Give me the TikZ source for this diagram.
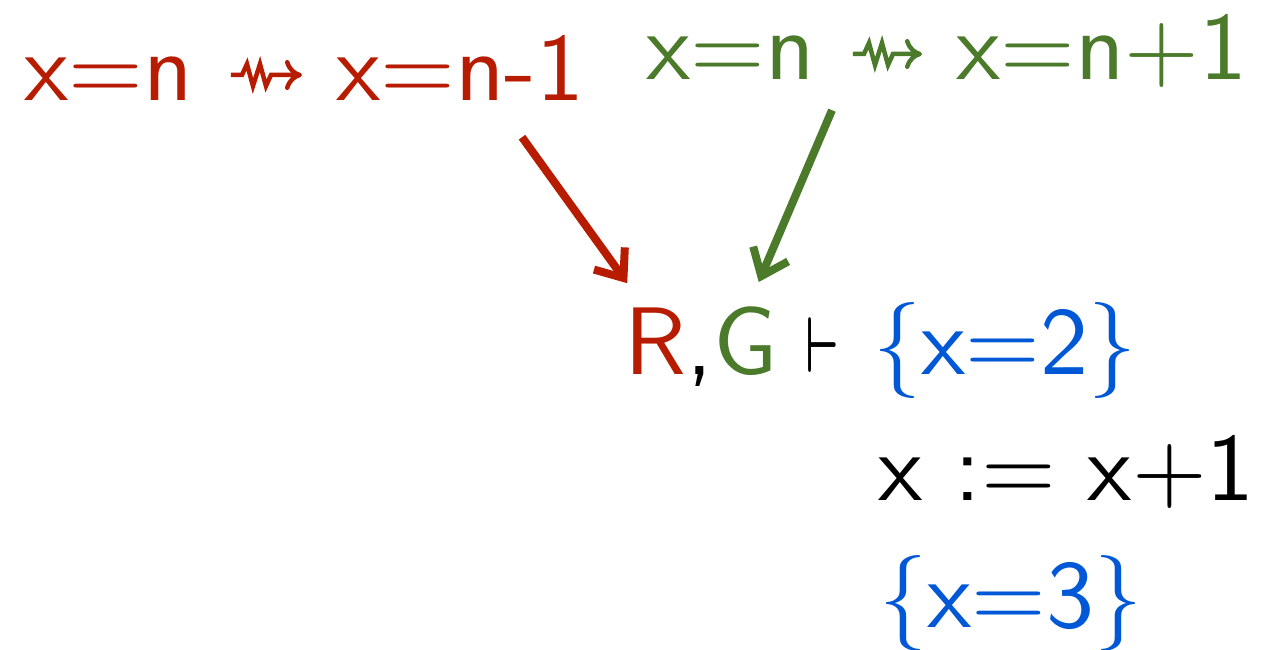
\RequirePackage{fix-cm}
\documentclass[tikz,border=0pt]{standalone}
\usepackage{graphicx}
\usepackage{amssymb}
\usepackage{fontspec}
\setsansfont[Extension=.otf]{lmsans10-regular}
\usetikzlibrary{arrows.meta}
\definecolor{cred}{RGB}{183,28,0}
\definecolor{cgreen}{RGB}{74,122,42}
\definecolor{cblue}{RGB}{0,88,214}
\tikzset{
  lbl/.style={inner sep=0pt, anchor=base west, font=\sffamily\fontsize{96}{110}\selectfont},
  squig/.style={line width=4.5pt, miter limit=4, -{Computer Modern Rightarrow[length=17pt,width=30pt]}},
  arr/.style={line width=8pt, -{Straight Barb[length=24pt,width=38pt]}}
}
\begin{document}
\begin{tikzpicture}[x=1pt,y=-1pt]
\useasboundingbox (0,0) rectangle (1264,650);
% top left (red)
\node[lbl,text=cred] (r1) at (24,101) {x=n};
\node[lbl,text=cred] (r2) at (336,101) {x=n-1};
% top right (green)
\node[lbl,text=cgreen] (g1) at (646,80) {x=n};
\node[lbl,text=cgreen] (g2) at (956,80) {x=n+1};
% leads-to arrows
\coordinate (rsA) at ([xshift=38pt,yshift=26pt]r1.base east);
\coordinate (rsB) at ([xshift=-34pt,yshift=26pt]r2.base west);
\coordinate (gsA) at ([xshift=38pt,yshift=26pt]g1.base east);
\coordinate (gsB) at ([xshift=-34pt,yshift=26pt]g2.base west);
\draw[squig,cred] (rsA) -- ++(11,0) -- ++(5,-11) -- ++(6,22) -- ++(7,-22) -- ++(6,22) -- ++(5,-11) -- (rsB);
\draw[squig,cgreen] (gsA) -- ++(11,0) -- ++(5,-11) -- ++(6,22) -- ++(7,-22) -- ++(6,22) -- ++(5,-11) -- (gsB);
% judgement line
\node[lbl,text=cred] (R) at (624,374) {R};
\node[lbl] (cm) at (R.base east) {,};
\node[lbl,text=cgreen] (G) at (cm.base east) {G};
\node[inner sep=0pt, anchor=base] (vd) at (822,372) {\scalebox{4.8}[7.9]{\boldmath$\vdash$}};
\node[lbl,text=cblue] (p1) at (873,374) {\{x=2\}};
\node[lbl] (asg) at (878,500) {x := x+1};
\node[lbl,text=cblue] (p2) at (879,627) {\{x=3\}};
% arrows
\draw[arr,cred] ([xshift=186pt,yshift=-36pt]r2.south west) -- ([xshift=-28pt,yshift=24pt]R.north);
\draw[arr,cgreen] ([xshift=17pt,yshift=-30pt]g1.south east) -- ([xshift=13pt,yshift=24pt]G.north);
\end{tikzpicture}
\end{document}
